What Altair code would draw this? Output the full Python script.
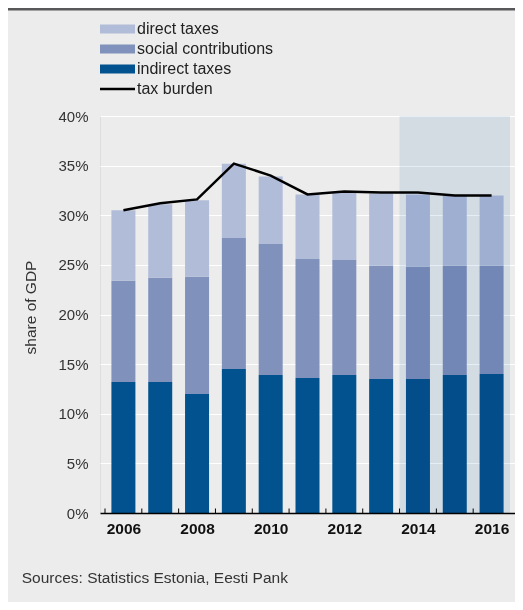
import altair as alt
import pandas as pd

# ---- data ----
years = list(range(2006, 2017))
indirect_taxes = [13.2, 13.2, 12.0, 14.5, 13.9, 13.6, 13.9, 13.5, 13.5, 13.9, 14.0]
social_contributions = [10.2, 10.5, 11.8, 13.2, 13.2, 12.0, 11.6, 11.4, 11.3, 11.0, 10.9]
direct_taxes = [7.1, 7.4, 7.7, 7.5, 6.8, 6.5, 6.8, 7.3, 7.3, 7.1, 7.1]
tax_burden = [30.5, 31.2, 31.6, 35.2, 34.0, 32.1, 32.4, 32.3, 32.3, 32.0, 32.0]

components = ["direct taxes", "social contributions", "indirect taxes"]
component_colors = ["#b1bcd9", "#8091bc", "#02528f"]
forecast_years = [2014, 2015, 2016]
y_ticks = [0, 5, 10, 15, 20, 25, 30, 35, 40]
x_labels = [2006, 2008, 2010, 2012, 2014, 2016]
source_text = "Sources: Statistics Estonia, Eesti Pank"

FONT = "Liberation Sans"

# ---- tables ----
rows = []
for i, yr in enumerate(years):
    rows.append({"year": yr, "component": "indirect taxes", "value": indirect_taxes[i], "ord": 0})
    rows.append({"year": yr, "component": "social contributions", "value": social_contributions[i], "ord": 1})
    rows.append({"year": yr, "component": "direct taxes", "value": direct_taxes[i], "ord": 2})
bars_df = pd.DataFrame(rows)
line_df = pd.DataFrame({"year": years, "burden": tax_burden, "series": ["tax burden"] * len(years)})
forecast_df = pd.DataFrame({
    "start": [min(forecast_years) - 0.5],
    "end": [max(forecast_years) + 0.5],
    "y0": [y_ticks[0]],
    "y1": [y_ticks[-1]],
})
ticks_df = pd.DataFrame({"year": years})
source_df = pd.DataFrame({"t": [source_text]})

PLOT_W, PLOT_H = 415, 397

x_scale = alt.Scale(domain=[years[0] - 0.5, years[-1] + 0.5], nice=False, zero=False)
y_scale = alt.Scale(domain=[y_ticks[0], y_ticks[-1]], nice=False)

x_axis = alt.Axis(
    values=x_labels, format="d", title=None, grid=False, ticks=False,
    labelFontWeight="bold", labelFontSize=15.5, labelColor="#111111",
    labelPadding=8, labelFlush=False, labelFont=FONT,
    domainColor="#000000", domainWidth=1.5, zindex=1,
)
y_axis = alt.Axis(
    values=y_ticks, labelExpr="datum.value + '%'", title="share of GDP",
    ticks=False, domain=False, grid=True, gridColor="#ffffff", gridWidth=1.2,
    labelFontSize=15, labelColor="#333333", labelPadding=12, labelFont=FONT,
    titleFontSize=15.5, titleFontWeight="normal", titleColor="#333333", titleFont=FONT,
    titleAngle=270, titleX=-70, titleY=191, titleAlign="center", titleBaseline="middle",
)

bars = alt.Chart(bars_df).mark_bar(size=24).encode(
    x=alt.X("year:Q", scale=x_scale, axis=x_axis),
    y=alt.Y("value:Q", stack="zero", scale=y_scale, axis=y_axis),
    fill=alt.Fill(
        "component:N",
        scale=alt.Scale(domain=components, range=component_colors),
        legend=alt.Legend(
            title=None, orient="none", legendX=0, legendY=-95,
            symbolType="M-1,-0.5625H3.375V0.5625H-1Z", symbolSize=256, symbolStrokeWidth=0,
            symbolOpacity=1, labelFontSize=16, labelColor="#222222", labelFont=FONT,
            labelOffset=21, rowPadding=4, padding=0,
        ),
    ),
    order=alt.Order("ord:Q", sort="ascending"),
)

forecast = alt.Chart(forecast_df).mark_rect(color="#e5eef7", blend="multiply").encode(
    x=alt.X("start:Q", scale=x_scale, axis=x_axis),
    x2="end:Q",
    y=alt.Y("y0:Q", scale=y_scale, axis=y_axis),
    y2="y1:Q",
)

line = alt.Chart(line_df).mark_line(strokeWidth=2.5).encode(
    x=alt.X("year:Q", scale=x_scale, axis=x_axis),
    y=alt.Y("burden:Q", scale=y_scale, axis=y_axis),
    stroke=alt.Stroke(
        "series:N",
        scale=alt.Scale(domain=["tax burden"], range=["#000000"]),
        legend=alt.Legend(
            title=None, orient="none", legendX=0, legendY=-35,
            symbolType="M-1.185,0H4", symbolSize=182.25, symbolStrokeWidth=2.5,
            labelFontSize=16, labelColor="#222222", labelFont=FONT,
            labelOffset=21, padding=0,
        ),
    ),
)

ticks = alt.Chart(ticks_df).transform_calculate(b="datum.year - 0.5").mark_rule(
    color="#000000", strokeWidth=1
).encode(
    x=alt.X("b:Q", scale=x_scale, axis=x_axis),
    y=alt.value(PLOT_H),
    y2=alt.value(PLOT_H - 4.5),
)

source = alt.Chart(source_df).mark_text(
    align="left", baseline="middle", fontSize=15.5, font=FONT, color="#333333"
).encode(x=alt.value(-78.3), y=alt.value(461.7), text="t:N")

band = alt.Chart(source_df).mark_rect(color="#58585a").encode(
    x=alt.value(-92), x2=alt.value(PLOT_W), y=alt.value(-108), y2=alt.value(-105.5)
)

chart = alt.layer(bars, forecast, line, ticks, source, band).resolve_scale(
    fill="independent", stroke="independent"
).properties(
    width=PLOT_W, height=PLOT_H,
    background="#ebeceb",
    padding={"left": 92, "top": 108, "right": 0, "bottom": 89},
    autosize=alt.AutoSizeParams(type="none"),
).configure_view(stroke=None).configure(font=FONT)

chart.save("out.html", embed_options={"renderer": "svg", "actions": False})
